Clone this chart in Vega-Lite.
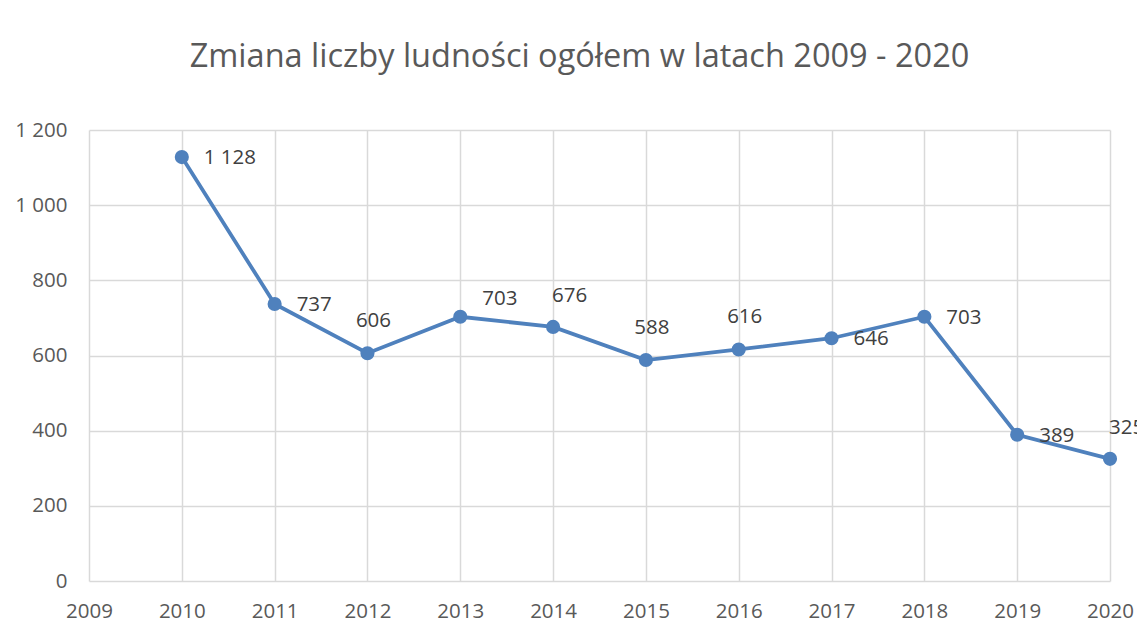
{
  "$schema": "https://vega.github.io/schema/vega-lite/v6.json",
  "width": 1021,
  "height": 451,
  "autosize": {"type": "none"},
  "padding": {"left": 89, "top": 130, "right": 27, "bottom": 42},
  "background": "white",
  "title": {
    "text": "Zmiana liczby ludności ogółem w latach 2009 - 2020",
    "font": "Open Sans",
    "fontSize": 32.5,
    "fontWeight": "normal",
    "color": "#595959",
    "anchor": "middle",
    "frame": "group",
    "dx": -20,
    "baseline": "alphabetic",
    "offset": 21
  },
  "config": {
    "locale": {"number": {"decimal": ",", "thousands": " ", "grouping": [3], "currency": ["", " zł"]}},
    "view": {"stroke": null},
    "axis": {
      "gridColor": "#d9d9d9",
      "gridWidth": 1.5,
      "domain": false,
      "ticks": false,
      "labelFont": "Open Sans",
      "labelFontSize": 20.5,
      "labelColor": "#595959",
      "title": null
    }
  },
  "data": {
    "values": [
      {"year": 2010, "value": 1128},
      {"year": 2011, "value": 737},
      {"year": 2012, "value": 606},
      {"year": 2013, "value": 703},
      {"year": 2014, "value": 676},
      {"year": 2015, "value": 588},
      {"year": 2016, "value": 616},
      {"year": 2017, "value": 646},
      {"year": 2018, "value": 703},
      {"year": 2019, "value": 389},
      {"year": 2020, "value": 325}
    ]
  },
  "encoding": {
    "x": {
      "field": "year",
      "type": "quantitative",
      "scale": {"domain": [2009, 2020], "nice": false, "zero": false},
      "axis": {
        "values": [2009, 2010, 2011, 2012, 2013, 2014, 2015, 2016, 2017, 2018, 2019, 2020],
        "labelExpr": "format(datum.value, 'd')",
        "labelPadding": 20,
        "labelFlush": false,
        "labelOverlap": false,
        "title": null
      }
    },
    "y": {
      "field": "value",
      "type": "quantitative",
      "scale": {"domain": [0, 1200], "nice": false},
      "axis": {
        "values": [0, 200, 400, 600, 800, 1000, 1200],
        "labelExpr": "format(datum.value, ',')",
        "labelPadding": 22,
        "labelFlush": false,
        "labelOverlap": false,
        "title": null
      }
    }
  },
  "layer": [
    {"mark": {"type": "line", "color": "#4F81BD", "strokeWidth": 3.75}},
    {"mark": {"type": "point", "filled": true, "opacity": 1, "color": "#4F81BD", "size": 200}},
    {
      "transform": [{"filter": {"field": "year", "oneOf": [2010, 2011, 2017, 2018, 2019]}}],
      "mark": {"type": "text", "align": "left", "baseline": "middle", "dx": 22, "dy": 1, "font": "Open Sans", "fontSize": 20.5, "color": "#404040"},
      "encoding": {"text": {"field": "value", "type": "quantitative", "format": ","}}
    },
    {
      "transform": [{"filter": {"field": "year", "oneOf": [2012, 2015, 2016]}}],
      "mark": {"type": "text", "align": "center", "baseline": "middle", "dx": 6, "dy": -32, "font": "Open Sans", "fontSize": 20.5, "color": "#404040"},
      "encoding": {"text": {"field": "value", "type": "quantitative", "format": ","}}
    },
    {
      "transform": [{"filter": {"field": "year", "oneOf": [2014, 2020]}}],
      "mark": {"type": "text", "align": "left", "baseline": "middle", "dx": -1, "dy": -31, "font": "Open Sans", "fontSize": 20.5, "color": "#404040"},
      "encoding": {"text": {"field": "value", "type": "quantitative", "format": ","}}
    },
    {
      "transform": [{"filter": {"field": "year", "equal": 2013}}],
      "mark": {"type": "text", "align": "left", "baseline": "middle", "dx": 22, "dy": -18, "font": "Open Sans", "fontSize": 20.5, "color": "#404040"},
      "encoding": {"text": {"field": "value", "type": "quantitative", "format": ","}}
    }
  ]
}
